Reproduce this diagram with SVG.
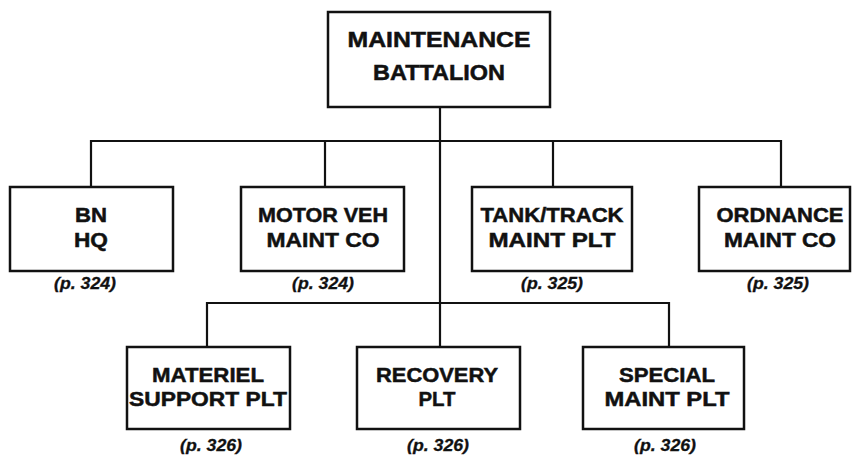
<svg xmlns="http://www.w3.org/2000/svg" width="852" height="457" viewBox="0 0 852 457">
<style>
.box{fill:#fff;stroke:#111;stroke-width:2.5}
.ln{fill:none;stroke:#111;stroke-width:2.2}
.t{font-family:"Liberation Sans",Arial,sans-serif;font-weight:bold;font-size:21px;fill:#111;stroke:#111;stroke-width:0.5;text-anchor:middle}
.tb{font-size:22px}
.p{font-family:"Liberation Sans",Arial,sans-serif;font-weight:bold;font-style:italic;font-size:16px;fill:#111;stroke:#111;stroke-width:0.3;text-anchor:middle}
</style>
<rect width="852" height="457" fill="#fff"/>
<g id="connectors">
<path class="ln" d="M440 107V303"/>
<path class="ln" d="M91 187V141H781V187"/>
<path class="ln" d="M325 141V187"/>
<path class="ln" d="M553 141V187"/>
<path class="ln" d="M207 347V303H669V347"/>
<path class="ln" d="M440 303V347"/>
</g>
<g id="maintenance-battalion">
<rect class="box" x="328" y="12" width="222" height="95"/>
<text class="t tb" x="439" y="47" textLength="183" lengthAdjust="spacingAndGlyphs">MAINTENANCE</text>
<text class="t tb" x="439" y="80" textLength="132" lengthAdjust="spacingAndGlyphs">BATTALION</text>
</g>
<g id="bn-hq">
<rect class="box" x="10" y="187" width="163" height="84"/>
<text class="t" x="91" y="222" textLength="32" lengthAdjust="spacingAndGlyphs">BN</text>
<text class="t" x="91" y="247" textLength="34" lengthAdjust="spacingAndGlyphs">HQ</text>
<text class="p" x="85" y="289" textLength="62" lengthAdjust="spacingAndGlyphs">(p. 324)</text>
</g>
<g id="motor-veh">
<rect class="box" x="241" y="187" width="163" height="84"/>
<text class="t" x="323" y="222" textLength="130" lengthAdjust="spacingAndGlyphs">MOTOR VEH</text>
<text class="t" x="323" y="247" textLength="113" lengthAdjust="spacingAndGlyphs">MAINT CO</text>
<text class="p" x="323" y="289" textLength="62" lengthAdjust="spacingAndGlyphs">(p. 324)</text>
</g>
<g id="tank-track">
<rect class="box" x="472" y="187" width="160" height="84"/>
<text class="t" x="552" y="222" textLength="143" lengthAdjust="spacingAndGlyphs">TANK/TRACK</text>
<text class="t" x="552" y="247" textLength="127" lengthAdjust="spacingAndGlyphs">MAINT PLT</text>
<text class="p" x="552" y="289" textLength="62" lengthAdjust="spacingAndGlyphs">(p. 325)</text>
</g>
<g id="ordnance">
<rect class="box" x="699" y="187" width="151" height="84"/>
<text class="t" x="780" y="222" textLength="127" lengthAdjust="spacingAndGlyphs">ORDNANCE</text>
<text class="t" x="780" y="247" textLength="112" lengthAdjust="spacingAndGlyphs">MAINT CO</text>
<text class="p" x="778" y="289" textLength="62" lengthAdjust="spacingAndGlyphs">(p. 325)</text>
</g>
<g id="materiel">
<rect class="box" x="127" y="347" width="163" height="82"/>
<text class="t" x="208" y="382" textLength="112" lengthAdjust="spacingAndGlyphs">MATERIEL</text>
<text class="t" x="208" y="406" textLength="158" lengthAdjust="spacingAndGlyphs">SUPPORT PLT</text>
<text class="p" x="211" y="451" textLength="62" lengthAdjust="spacingAndGlyphs">(p. 326)</text>
</g>
<g id="recovery">
<rect class="box" x="357" y="347" width="163" height="82"/>
<text class="t" x="437" y="382" textLength="122" lengthAdjust="spacingAndGlyphs">RECOVERY</text>
<text class="t" x="437" y="406" textLength="37" lengthAdjust="spacingAndGlyphs">PLT</text>
<text class="p" x="438" y="451" textLength="62" lengthAdjust="spacingAndGlyphs">(p. 326)</text>
</g>
<g id="special">
<rect class="box" x="583" y="347" width="161" height="82"/>
<text class="t" x="667" y="382" textLength="96" lengthAdjust="spacingAndGlyphs">SPECIAL</text>
<text class="t" x="667" y="406" textLength="125" lengthAdjust="spacingAndGlyphs">MAINT PLT</text>
<text class="p" x="665" y="451" textLength="62" lengthAdjust="spacingAndGlyphs">(p. 326)</text>
</g>
</svg>
